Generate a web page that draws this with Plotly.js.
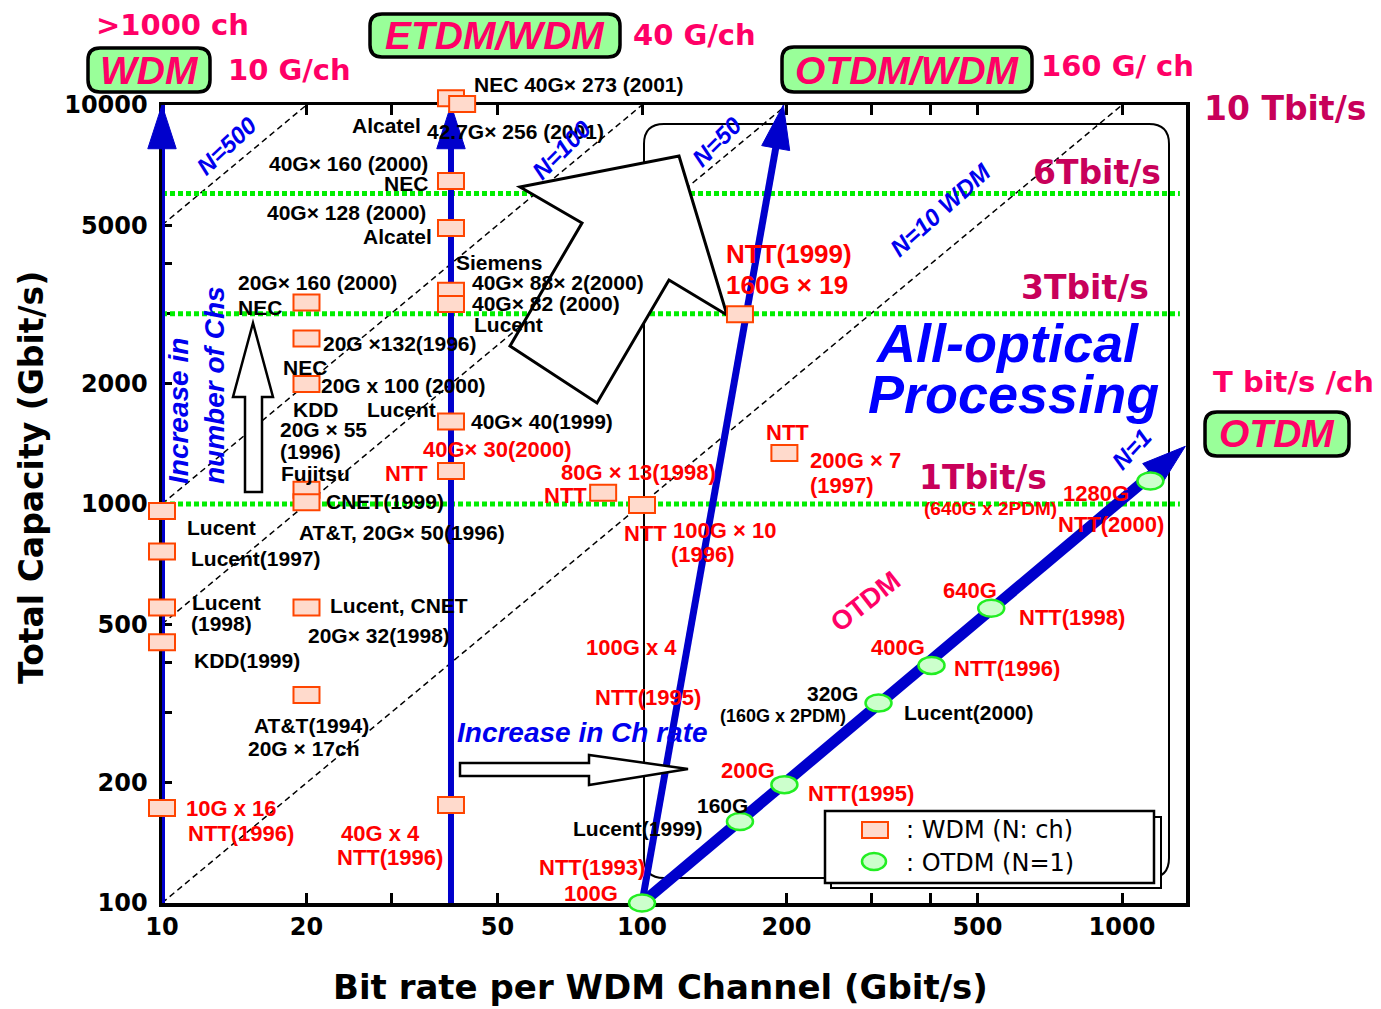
<!DOCTYPE html>
<html><head><meta charset="utf-8">
<script src="https://cdn.plot.ly/plotly-3.0.1.min.js"></script>
<style>html,body{margin:0;padding:0;background:#fff;} #chart{width:1381px;height:1009px;}</style>
</head><body><div id="chart"></div>
<script>
// ---------------- data ----------------
// WDM experiments (bit rate per channel, total capacity)
const wdmRate = [10, 10, 10, 10, 10, 20, 20, 20, 20, 20, 20, 20, 40, 42.2, 40, 40, 40, 40, 40, 40, 40, 83, 100, 160, 198];
const wdmCap  = [960, 760, 550, 450, 173, 3200, 2600, 2000, 1085, 1010, 550, 332, 10400, 10060, 6450, 4920, 3425, 3170, 1610, 1210, 176, 1067, 994, 2990, 1343];
// OTDM experiments (single channel)
const otdmRate = [100, 160, 198, 311, 401, 534, 1146];
const otdmCap  = [100, 160, 198, 317, 394, 548, 1142];
// constant channel-count guide lines (capacity = N x rate)
const nLineN     = [500, 100, 50, 10];
const nLineRate0 = [10, 10, 10, 10];
const nLineCap0  = [5000, 1000, 500, 100];
const nLineRate1 = [20, 100, 200, 1000];
const nLineCap1  = [10000, 10000, 10000, 10000];
// capacity levels (green dotted)
const capLevels = [1000, 3000, 6000];
const capLevelRate = [10, 1320];
// trend arrows
const arrowRate0 = [10, 40, 100, 100];
const arrowCap0  = [100, 100, 100, 100];
const arrowRate1 = [10, 40, 197, 1355];
const arrowCap1  = [10000, 10000, 10000, 1395];
// ticks
const xTickVals = [10, 20, 30, 40, 50, 100, 200, 300, 400, 500, 1000];
const xTickText = ['10', '20', '', '', '50', '100', '200', '', '', '500', '1000'];
const yTickVals = [100, 200, 300, 400, 500, 1000, 2000, 3000, 4000, 5000, 10000];
const yTickText = ['100', '200', '', '', '500', '1000', '2000', '', '', '5000', '10000'];

// ---------------- styling / layout helpers ----------------
const ARIAL = 'Liberation Sans, Arial, sans-serif';
const DEJA = 'DejaVu Sans, sans-serif';
const L = 162, T = 105, W = 1024, H = 798;
const XDEC = 480, YDEC = 399;           // pixels per decade
const fx = p => (p - L) / W;
const fy = p => (T + H - p) / H;
const BLUE = '#0000cc', TBLUE = '#0000ee', PINK = '#ff0066', DPINK = '#c8005a', RED = '#ff0000';
// marker half sizes in pixels, turned into multiplicative factors on the log axes
const kx = px => Math.pow(10, px / XDEC);
const ky = px => Math.pow(10, px / YDEC);

function ann(text, x, y, o) {
  o = o || {};
  return {
    text: text, xref: 'paper', yref: 'paper', x: fx(x), y: fy(y),
    xanchor: o.xa || 'left', yanchor: 'middle', showarrow: false,
    textangle: o.ang || 0, align: o.align || 'left', borderpad: 0,
    font: {family: o.f || ARIAL, size: o.s || 22, color: o.c || '#000',
           weight: o.w || 'bold', style: o.it ? 'italic' : 'normal'}
  };
}
function polyPath(pts) {
  return 'M' + pts.map(p => fx(p[0]) + ',' + fy(p[1])).join(' L') + ' Z';
}
function P(x, y) { return fx(x) + ',' + fy(y); }
function roundRect(x0, y0, x1, y1, r) {
  return 'M' + P(x0 + r, y0) + ' L' + P(x1 - r, y0) + ' Q' + P(x1, y0) + ' ' + P(x1, y0 + r) +
    ' L' + P(x1, y1 - r) + ' Q' + P(x1, y1) + ' ' + P(x1 - r, y1) +
    ' L' + P(x0 + r, y1) + ' Q' + P(x0, y1) + ' ' + P(x0, y1 - r) +
    ' L' + P(x0, y0 + r) + ' Q' + P(x0, y0) + ' ' + P(x0 + r, y0) + ' Z';
}

// ---------------- traces ----------------
const traces = [];
nLineN.forEach((n, i) => {
  traces.push({x: [nLineRate0[i], nLineRate1[i]], y: [nLineCap0[i], nLineCap1[i]], mode: 'lines',
    line: {color: '#000', width: 1.5, dash: '6px,4px'}, hoverinfo: 'skip', name: 'N=' + n});
});
capLevels.forEach(c => {
  traces.push({x: capLevelRate, y: [c, c], mode: 'lines',
    line: {color: '#00ee00', width: 5, dash: '5px,3px'}, hoverinfo: 'skip'});
});
const arrowWidth = [6, 6, 7, 11];
arrowRate0.forEach((r, i) => {
  traces.push({x: [r, arrowRate1[i]], y: [arrowCap0[i], arrowCap1[i]], mode: 'lines+markers',
    line: {color: BLUE, width: arrowWidth[i]}, cliponaxis: false,
    marker: {symbol: 'arrow', angleref: 'previous', size: [0, 46], color: BLUE, opacity: 1,
             line: {width: 1, color: BLUE}},
    hoverinfo: 'skip'});
});

// ---------------- shapes ----------------
const shapes = [];
// All-optical region
shapes.push({type: 'path', xref: 'paper', yref: 'paper', path: roundRect(644, 124, 1169, 878, 20),
  line: {color: '#000', width: 2}, fillcolor: 'rgba(0,0,0,0)', layer: 'below'});
// big hollow arrow
shapes.push({type: 'path', xref: 'paper', yref: 'paper', layer: 'above',
  path: polyPath([[679,156],[727,315],[669,280],[597,403],[510,346],[582,223],[520,187]]),
  line: {color: '#000', width: 3}, fillcolor: '#fff'});
// small up arrow
shapes.push({type: 'path', xref: 'paper', yref: 'paper', layer: 'above',
  path: polyPath([[253,323],[273,397],[262,397],[262,492],[245,492],[245,397],[233,397]]),
  line: {color: '#000', width: 2.5}, fillcolor: '#fff'});
// right arrow
shapes.push({type: 'path', xref: 'paper', yref: 'paper', layer: 'above',
  path: polyPath([[460,763],[589,763],[589,755],[688,769],[589,785],[589,776],[460,776]]),
  line: {color: '#000', width: 2.5}, fillcolor: '#fff'});
// header boxes
[[88,48,210,92],[370,14,620,57],[782,47,1032,92],[1205,412,1349,456]].forEach(b => {
  shapes.push({type: 'path', xref: 'paper', yref: 'paper', layer: 'above',
    path: roundRect(b[0], b[1], b[2], b[3], 12), line: {color: '#000', width: 3.5}, fillcolor: '#99ff99'});
});
// legend box with shadow
shapes.push({type: 'rect', xref: 'paper', yref: 'paper', layer: 'above', x0: fx(831), x1: fx(1161), y0: fy(888), y1: fy(817),
  line: {color: '#000', width: 2}, fillcolor: '#fff'});
shapes.push({type: 'rect', xref: 'paper', yref: 'paper', layer: 'above', x0: fx(825), x1: fx(1154), y0: fy(883), y1: fy(811),
  line: {color: '#000', width: 2.5}, fillcolor: '#fff'});
shapes.push({type: 'rect', xref: 'paper', yref: 'paper', layer: 'above', x0: fx(862), x1: fx(888), y0: fy(838), y1: fy(822),
  line: {color: '#ff4500', width: 2}, fillcolor: '#ffdacc'});
shapes.push({type: 'circle', xref: 'paper', yref: 'paper', layer: 'above', x0: fx(862), x1: fx(886), y0: fy(870), y1: fy(853),
  line: {color: '#22ee22', width: 2.5}, fillcolor: '#ccffcc'});
// data markers (drawn on the data axes)
wdmRate.forEach((r, i) => {
  const c = wdmCap[i];
  shapes.push({type: 'rect', xref: 'x', yref: 'y',
    x0: r / kx(13), x1: r * kx(13), y0: c / ky(8), y1: c * ky(8),
    line: {color: '#ff4500', width: 2}, fillcolor: '#ffdacc', layer: 'above'});
});
otdmRate.forEach((r, i) => {
  const c = otdmCap[i];
  shapes.push({type: 'circle', xref: 'x', yref: 'y',
    x0: r / kx(13), x1: r * kx(13), y0: c / ky(8.5), y1: c * ky(8.5),
    line: {color: '#22ee22', width: 2.5}, fillcolor: '#ccffcc', layer: 'above'});
});

// ---------------- annotations ----------------
const A = [];
// header texts
A.push(ann('&gt;1000 ch', 95, 25, {f: DEJA, s: 29, c: PINK}));
A.push(ann('10 G/ch', 227, 70, {f: DEJA, s: 29, c: PINK}));
A.push(ann('40 G/ch', 632, 35, {f: DEJA, s: 29, c: PINK}));
A.push(ann('160 G/ ch', 1040, 66, {f: DEJA, s: 29, c: PINK}));
A.push(ann('T bit/s /ch', 1212, 382, {f: DEJA, s: 29, c: PINK}));
A.push(ann('WDM', 149, 70, {xa: 'center', s: 39, c: PINK, it: true}));
A.push(ann('ETDM/WDM', 495, 36, {xa: 'center', s: 39, c: PINK, it: true}));
A.push(ann('OTDM/WDM', 907, 70, {xa: 'center', s: 39, c: PINK, it: true}));
A.push(ann('OTDM', 1277, 434, {xa: 'center', s: 39, c: PINK, it: true}));
A.push(ann('10 Tbit/s', 1203, 108, {f: DEJA, s: 33, c: DPINK}));
A.push(ann('6Tbit/s', 1032, 172, {f: DEJA, s: 33, c: DPINK}));
A.push(ann('3Tbit/s', 1020, 287, {f: DEJA, s: 33, c: DPINK}));
A.push(ann('1Tbit/s', 918, 478, {f: DEJA, s: 33, c: DPINK}));
// black labels
const blackLabels = [
  ['NEC 40G× 273 (2001)', 473, 85], ['42.7G× 256 (2001)', 426, 131],
  ['40G× 160 (2000)', 268, 163], ['40G× 128 (2000)', 266, 212],
  ['Siemens', 455, 262], ['40G× 88× 2(2000)', 471, 282], ['40G× 82 (2000)', 471, 303], ['Lucent', 473, 324],
  ['20G× 160 (2000)', 237, 282], ['NEC', 237, 307], ['20G ×132(1996)', 322, 343], ['NEC', 282, 367],
  ['20G x 100 (2000)', 320, 385], ['KDD', 292, 410], ['Lucent', 366, 409], ['20G × 55', 279, 429],
  ['(1996)', 279, 451], ['Fujitsu', 280, 473], ['CNET(1999)', 325, 501], ['AT&amp;T, 20G× 50(1996)', 298, 532],
  ['40G× 40(1999)', 470, 421], ['Lucent', 186, 527], ['Lucent(1997)', 190, 558], ['Lucent', 191, 602],
  ['(1998)', 190, 623], ['KDD(1999)', 193, 660], ['Lucent, CNET', 329, 605], ['20G× 32(1998)', 307, 635],
  ['AT&amp;T(1994)', 253, 725], ['20G × 17ch', 247, 748], ['Lucent(1999)', 572, 828], ['160G', 696, 805],
  ['320G', 806, 693], ['Lucent(2000)', 903, 712]
];
blackLabels.forEach(b => A.push(ann(b[0], b[1], b[2], {s: 21})));
A.push(ann('Alcatel', 422, 126, {xa: 'right', s: 21}));
A.push(ann('NEC', 429, 183, {xa: 'right', s: 21}));
A.push(ann('Alcatel', 433, 236, {xa: 'right', s: 21}));
A.push(ann('(160G x 2PDM)', 719, 716, {s: 18}));
// red labels
const redLabels = [
  ['40G× 30(2000)', 422, 449], ['80G × 13(1998)', 560, 472], ['NTT', 543, 495], ['NTT', 623, 533],
  ['100G × 10', 672, 530], ['(1996)', 670, 554], ['NTT', 765, 432], ['200G × 7', 809, 460], ['(1997)', 809, 485],
  ['10G x 16', 185, 808], ['NTT(1996)', 187, 833], ['40G x 4', 340, 833], ['NTT(1996)', 336, 857],
  ['100G x 4', 585, 647], ['NTT(1995)', 594, 697], ['NTT(1993)', 538, 867], ['100G', 563, 893],
  ['200G', 720, 770], ['NTT(1995)', 807, 793], ['400G', 870, 647], ['NTT(1996)', 953, 668],
  ['640G', 942, 590], ['NTT(1998)', 1018, 617], ['1280G', 1062, 493], ['NTT(2000)', 1057, 524]
];
redLabels.forEach(b => A.push(ann(b[0], b[1], b[2], {c: RED})));
A.push(ann('NTT', 429, 473, {xa: 'right', c: RED}));
A.push(ann('NTT(1999)', 725, 254, {c: RED, s: 26}));
A.push(ann('160G × 19', 725, 285, {c: RED, s: 26}));
A.push(ann('(640G x 2PDM)', 923, 508, {c: RED, s: 19}));
// blue / rotated labels
A.push(ann('N=500', 227, 146, {xa: 'center', ang: -43, s: 24, c: TBLUE, it: true}));
A.push(ann('N=100', 562, 150, {xa: 'center', ang: -45, s: 24, c: TBLUE, it: true}));
A.push(ann('N=50', 717, 142, {xa: 'center', ang: -45, s: 24, c: TBLUE, it: true}));
A.push(ann('N=10 WDM', 941, 210, {xa: 'center', ang: -42, s: 24, c: TBLUE, it: true}));
A.push(ann('N=1', 1131, 449, {xa: 'center', ang: -47, s: 24, c: TBLUE, it: true}));
A.push(ann('OTDM', 865, 602, {xa: 'center', ang: -38, s: 27, c: PINK}));
A.push(ann('Increase in<br>number of Chs', 196, 385, {xa: 'center', ang: -90, s: 28, c: TBLUE, it: true}));
A.push(ann('Increase in Ch rate', 456, 732, {s: 28, c: TBLUE, it: true}));
A.push(ann('All-optical', 1007, 343, {xa: 'center', s: 54, c: '#0000ff', it: true}));
A.push(ann('Processing', 1013, 394, {xa: 'center', s: 54, c: '#0000ff', it: true}));
// legend texts
A.push(ann(': WDM (N: ch)', 905, 830, {f: DEJA, s: 24, w: 'normal'}));
A.push(ann(': OTDM (N=1)', 905, 863, {f: DEJA, s: 24, w: 'normal'}));
// axis titles
A.push(ann('Total Capacity (Gbit/s)', 32, 478, {xa: 'center', ang: -90, f: DEJA, s: 33}));
A.push(ann('Bit rate per WDM Channel (Gbit/s)', 660, 987, {xa: 'center', f: DEJA, s: 34}));

// ---------------- layout ----------------
const axisCommon = {
  type: 'log', ticks: 'inside', ticklen: 10, tickwidth: 3, tickcolor: '#000',
  showline: true, linewidth: 3.5, linecolor: '#000', showgrid: false, zeroline: false,
  tickfont: {family: DEJA, size: 24, color: '#000', weight: 'bold'}, layer: 'below traces'
};
const layout = {
  width: 1381, height: 1009, margin: {l: L, r: 1381 - L - W, t: T, b: 1009 - T - H},
  paper_bgcolor: '#fff', plot_bgcolor: '#fff', showlegend: false,
  xaxis: Object.assign({}, axisCommon, {range: [1, 1 + W / XDEC], tickvals: xTickVals, ticktext: xTickText,
    mirror: 'ticks', ticklabelstandoff: 0}),
  yaxis: Object.assign({}, axisCommon, {range: [2, 2 + H / YDEC], tickvals: yTickVals, ticktext: yTickText,
    mirror: true, ticklabelstandoff: 6}),
  shapes: shapes, annotations: A
};

Plotly.newPlot('chart', traces, layout, {staticPlot: true}).then(() => {
  document.querySelectorAll('.shapelayer [clip-path], .shapelayer').forEach(el => el.removeAttribute('clip-path'));
});
</script></body></html>
